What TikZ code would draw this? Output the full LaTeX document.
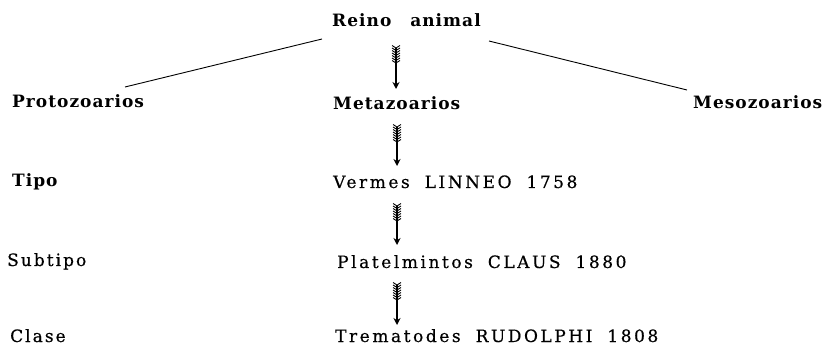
\documentclass[tikz,border=0pt]{standalone}
\usepackage{fontspec}
\setmainfont{DejaVu Serif}
\newfontfamily\regfont[FakeBold=0.5]{DejaVu Serif}
\usetikzlibrary{arrows.meta,calc}
\tikzset{
  lbl/.style={anchor=base west, inner sep=0pt, font=\fontsize{17}{20}\regfont\addfontfeature{LetterSpace=12}},
  wlbl/.style={lbl, font=\fontsize{17}{20}\regfont\addfontfeature{LetterSpace=15}},
  blbl/.style={lbl, font=\fontsize{17}{20}\selectfont\bfseries\addfontfeature{LetterSpace=6}},
  branch/.style={line width=0.9pt},
  shaft/.style={line width=1.3pt, -{Stealth[length=7pt,width=7pt]}},
  feather/.style={line width=0.9pt},
}
\newcommand{\fletch}[1]{%
  \foreach \k in {0,...,6}{
    \draw[feather] ($(#1)+(-4,-2.5+2.5*\k)$) -- ($(#1)+(0,2.5*\k)$) -- ($(#1)+(4,-2.5+2.5*\k)$);
  }}
\begin{document}
\begin{tikzpicture}[x=1pt,y=-1pt]
\useasboundingbox (0,0) rectangle (822,347);
\node[blbl] (reino) at (332,27) {Reino\hspace{12pt} animal};
\node[blbl] (proto) at (12,108) {Protozoarios};
\node[blbl] (meta) at (333,110) {Metazoarios};
\node[blbl] (meso) at (693,109) {Mesozoarios};
\node[blbl] (tipo) at (12,187) {Tipo};
\node[wlbl] (vermes) at (333,188) {Vermes\hspace{7pt} LINNEO\hspace{7pt} 1758};
\node[lbl] (subtipo) at (7,266) {Subtipo};
\node[wlbl] (plat) at (337,268) {Platelmintos\hspace{7pt} CLAUS\hspace{7pt} 1880};
\node[lbl] (clase) at (10,342) {Clase};
\node[wlbl] (trema) at (335,342) {Trematodes\hspace{7pt} RUDOLPHI\hspace{7pt} 1808};
% branch ends
\coordinate (rl) at (322,39);
\coordinate (pl) at (125,87);
\coordinate (rr) at (489,41);
\coordinate (mr) at (687,90);
\draw[branch] (rl) -- (pl);
\draw[branch] (rr) -- (mr);
% arrows
\coordinate (a1s) at (396,48); \coordinate (a1e) at (396,89);
\coordinate (a2s) at (397,127); \coordinate (a2e) at (397,166);
\coordinate (a3s) at (397,206); \coordinate (a3e) at (397,245);
\coordinate (a4s) at (397,285); \coordinate (a4e) at (397,325);
\foreach \s/\e in {a1s/a1e,a2s/a2e,a3s/a3e,a4s/a4e}{
  \draw[shaft] (\s) -- (\e);
  \fletch{\s}
}
\end{tikzpicture}
\end{document}
